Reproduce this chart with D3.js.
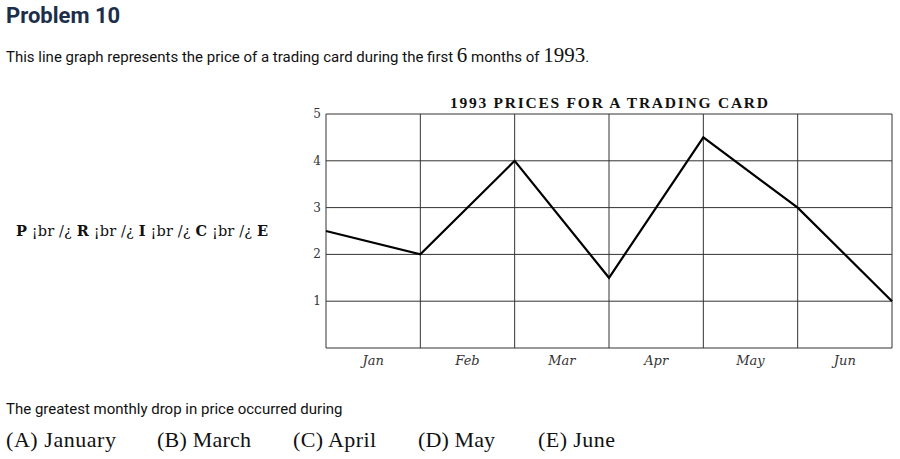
<!DOCTYPE html>
<html><head><meta charset="utf-8">
<script src="https://cdn.jsdelivr.net/npm/d3@7"></script>
<style>body{margin:0;background:#fff;}</style>
</head><body>
<svg id="c" width="900" height="459"></svg>
<script>
const months = ["Jan","Feb","Mar","Apr","May","Jun"];
const pointIdx = [0,1,2,3,4,5,6];
const prices = [2.5,2,4,1.5,4.5,3,1];
const yTicks = [1,2,3,4,5];
const choices = ["(A) January","(B) March","(C) April","(D) May","(E) June"];

const svg = d3.select("#c");
const serif = "'DejaVu Serif','Liberation Serif',serif";
const L=326, R=892, T=114, B=348;
const x = d3.scaleLinear().domain([0,6]).range([L,R]);
const y = d3.scaleLinear().domain([0,5]).range([B,T]);

svg.append("text").attr("x",6).attr("y",23).attr("font-family","Roboto,sans-serif").attr("font-weight",700).attr("font-size",22).attr("fill","#1c2e4a").text("Problem 10");
const t = svg.append("text").attr("x",6).attr("y",62).attr("font-family","Roboto,sans-serif").attr("font-size",15).attr("fill","#111");
t.append("tspan").text("This line graph represents the price of a trading card during the first ");
t.append("tspan").attr("font-family","'Liberation Serif',serif").attr("font-size",21).text("6");
t.append("tspan").text(" months of ");
t.append("tspan").attr("font-family","'Liberation Serif',serif").attr("font-size",21).text("1993");
t.append("tspan").text(".");

svg.append("text").attr("x",609).attr("y",108).attr("text-anchor","middle").attr("font-family","'Liberation Serif',serif").attr("font-weight","bold").attr("font-size",15.5).attr("textLength",318).attr("fill","#111").text("1993 PRICES FOR A TRADING CARD");

const g = svg.append("g");
g.selectAll(".h").data([0,...yTicks]).join("line").attr("x1",L).attr("x2",R).attr("y1",d=>y(d)).attr("y2",d=>y(d)).attr("stroke","#333").attr("stroke-width",1);
g.selectAll(".v").data(pointIdx).join("line").attr("x1",d=>x(d)).attr("x2",d=>x(d)).attr("y1",T).attr("y2",B).attr("stroke","#333").attr("stroke-width",1);
g.selectAll(".yt").data(yTicks).join("text").attr("x",L-5).attr("y",d=>y(d)+4).attr("text-anchor","end").attr("font-family",serif).attr("font-size",12).attr("fill","#333").text(d=>d);
g.selectAll(".xt").data(months).join("text").attr("x",(d,i)=>x(i+0.5)).attr("y",B+17).attr("text-anchor","middle").attr("font-family",serif).attr("font-style","italic").attr("font-size",13).attr("fill","#333").text(d=>d);

g.append("path").datum(prices).attr("fill","none").attr("stroke","#000").attr("stroke-width",2.2)
 .attr("d",d3.line().x((d,i)=>x(pointIdx[i])).y(d=>y(d)));

svg.append("text").attr("x",16).attr("y",236).attr("font-family",serif).attr("font-size",14.5).attr("fill","#111").attr("textLength",252)
 .html('<tspan font-weight="bold">P</tspan> ¡br /¿ <tspan font-weight="bold">R</tspan> ¡br /¿ <tspan font-weight="bold">I</tspan> ¡br /¿ <tspan font-weight="bold">C</tspan> ¡br /¿ <tspan font-weight="bold">E</tspan>');

svg.append("text").attr("x",6).attr("y",414).attr("font-family","Roboto,sans-serif").attr("font-size",15).attr("fill","#111").text("The greatest monthly drop in price occurred during");
const cx=[6,157,293,418,538];
const cw=[110,94,83,77,77];
svg.selectAll(".ch").data(choices).join("text").attr("x",(d,i)=>cx[i]).attr("y",447).attr("font-family","'Liberation Serif',serif").attr("font-size",22).attr("textLength",(d,i)=>cw[i]).attr("fill","#111").text(d=>d);
</script>
</body></html>
